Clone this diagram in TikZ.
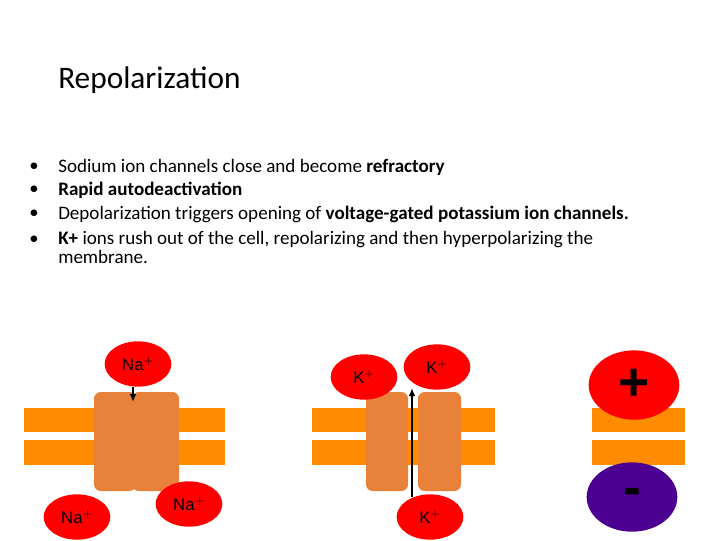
\documentclass[tikz,border=0pt]{standalone}
\usepackage{fontspec}
\setmainfont{Carlito}
\setsansfont{Liberation Sans}
\begin{document}
\begin{tikzpicture}[x=0.75pt,y=-0.75pt,
  bar/.style={fill=memb,draw=none},
  prot/.style={fill=protc,draw=none,rounded corners=5pt},
  ion/.style={ellipse,fill=ionred,draw=none,minimum width=50pt,minimum height=34pt,inner sep=0pt,font=\sffamily\fontsize{12.5}{12}\selectfont},
  big/.style={ellipse,draw=none,minimum width=68pt,minimum height=52pt,inner sep=0pt,font=\sffamily\bfseries\fontsize{40}{40}\selectfont},
  arr/.style={-{Latex[length=6pt,width=5pt]},line width=1.5pt},
  bul/.style={anchor=west,inner sep=0pt,font=\fontsize{14.3}{14}\selectfont}]
\usetikzlibrary{shapes.geometric,arrows.meta}
\definecolor{memb}{HTML}{FF8C00}
\definecolor{protc}{HTML}{E8823A}
\definecolor{ionred}{HTML}{FF0000}
\definecolor{purp}{HTML}{4B0091}
\fill[white] (0,0) rectangle (720,540);
\node[anchor=west,inner sep=0pt,font=\fontsize{23.5}{24}\selectfont] (title) at (58,80) {Repolarization};
\node[bul] (l1) at (58,167) {Sodium ion channels close and become \textbf{refractory}};
\node[bul] (l2) at (58,190) {\textbf{Rapid autodeactivation}};
\node[bul] (l3) at (58,214) {Depolarization triggers opening of \textbf{voltage-gated potassium ion channels.}};
\node[bul] (l4) at (58,240) {\textbf{K+} ions rush out of the cell, repolarizing and then hyperpolarizing the};
\node[bul] (l5) at (58,257) {membrane.};
\foreach \n in {1,2,3,4} \node[anchor=west,inner sep=0pt,font=\fontsize{14}{14}\selectfont] (d\n) at (29,0 |- l\n) {•};
% left
\fill[bar] (24,408) rectangle (225,432);
\fill[bar] (24,440) rectangle (225,465);
\fill[prot] (94,392) rectangle (136,491);
\fill[prot] (132,392) rectangle (179,491);
\node[ion] (na1) at (138,364) {Na$^+$};
\node[ion] (na2) at (77,517) {Na$^+$};
\node[ion] (na3) at (189,504) {Na$^+$};
\coordinate (a1) at (133,402);
\draw[arr] (na1.south -| a1) -- (a1);
% middle
\fill[bar] (312,408) rectangle (495,432);
\fill[bar] (312,440) rectangle (495,465);
\fill[prot] (366,392) rectangle (408,491);
\fill[prot] (418,392) rectangle (461,491);
\node[ion] (k1) at (364,377) {K$^+$};
\node[ion] (k2) at (437,367) {K$^+$};
\node[ion] (k3) at (430,517) {K$^+$};
\coordinate (a2s) at (412,497);
\coordinate (a2e) at (412,388);
\draw[arr] (a2s) -- (a2e);
% right
\fill[bar] (592,408) rectangle (685,432);
\fill[bar] (592,440) rectangle (685,465);
\node[big,fill=ionred] (plus) at (634,385) {+};
\node[big,fill=purp,text=black] (minus) at (632,497) {-};
\end{tikzpicture}
\end{document}
